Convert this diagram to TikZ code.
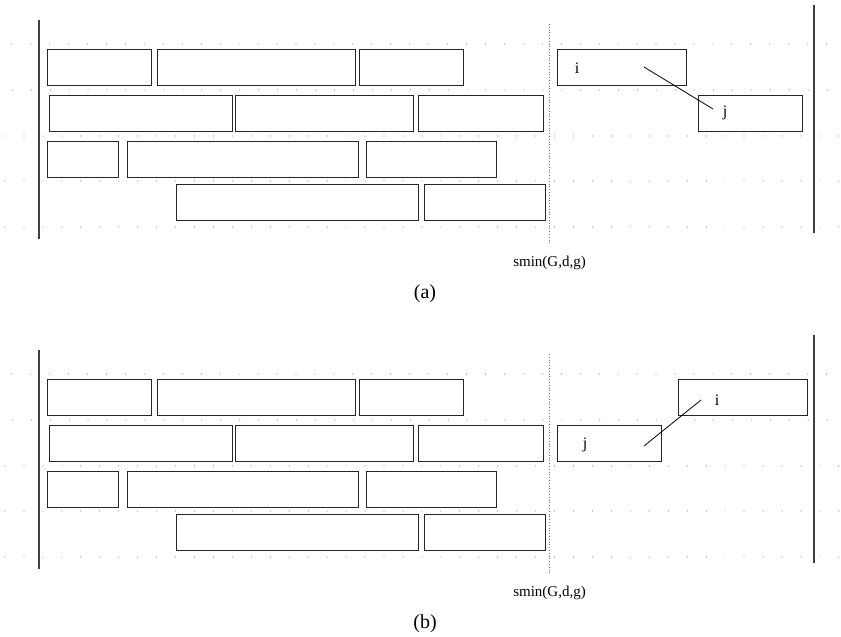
\documentclass[tikz,border=0pt]{standalone}
\usepackage{fontspec}
\setmainfont{Liberation Serif}
\newcommand\mybox[6]{\node[box, minimum width=#4pt, minimum height=#5pt] (#1) at (#2,#3) {#6};}
\newcommand\leftpart[1]{%
  % vertical bars
  \coordinate (#1lt) at (39,20); \coordinate (#1lb) at (39,239);
  \draw[bar] (#1lt) -- (#1lb);
  \coordinate (#1rt) at (814,5); \coordinate (#1rb) at (814,233);
  \draw[bar] (#1rt) -- (#1rb);
  \coordinate (#1dt) at (549,24); \coordinate (#1db) at (549,245);
  \draw[vdot] (#1dt) -- (#1db);
  % dot rows
  \foreach \yy/\ox in {44/11.7,90/12.3,136/5,181/5,227/5}{
    \foreach \k in {0,...,44}{
      \pgfmathsetmacro\xx{\ox+18.95*\k}
      \ifdim\xx pt<841pt \fill[dotc] (\xx,\yy) circle (0.6);\fi
    }
  }
  % blocks
  \mybox{#1r1a}{47}{49}{104}{36}{}
  \mybox{#1r1b}{157}{49}{198}{36}{}
  \mybox{#1r1c}{359}{49}{104}{36}{}
  \mybox{#1r2a}{49}{95}{183}{36}{}
  \mybox{#1r2b}{235}{95}{178}{36}{}
  \mybox{#1r2c}{418}{95}{125}{36}{}
  \mybox{#1r3a}{47}{141}{71}{36}{}
  \mybox{#1r3b}{127}{141}{231}{36}{}
  \mybox{#1r3c}{366}{141}{130}{36}{}
  \mybox{#1r4a}{176}{184}{242}{36}{}
  \mybox{#1r4b}{424}{184}{121}{36}{}
  \node[lbl] (#1smin) at (549.5,263) {smin(G,d,g)};
}
\begin{document}
\begin{tikzpicture}[x=1pt,y=-1pt,
  box/.style={draw=black!85, line width=0.9pt, rectangle, inner sep=0pt, outer sep=0pt, anchor=north west},
  bar/.style={draw=black!75, line width=1.4pt},
  vdot/.style={draw=black!55, line width=0.8pt, dotted},
  dotc/.style={fill=black!45},
  lbl/.style={font=\fontsize{15}{17}\selectfont, inner sep=0pt},
  ij/.style={font=\fontsize{16}{18}\selectfont, inner sep=0pt},
  captxt/.style={font=\fontsize{20}{22}\selectfont, inner sep=0pt},
  link/.style={draw=black, line width=0.8pt}]
\useasboundingbox (0,0) rectangle (841,637);
% panel (a)
\begin{scope}
\leftpart{a}
\mybox{ai}{557}{49}{129}{36}{}
\mybox{aj}{698}{95}{104}{36}{}
\node[ij] (ailbl) at (577,68) {i};
\node[ij] (ajlbl) at (725,113) {j};
\coordinate (al1) at (644,67);
\coordinate (al2) at (713,109);
\draw[link] (al1) -- (al2);
\node[captxt] (capa) at (425,294) {(a)};
\end{scope}
% panel (b)
\begin{scope}[shift={(0,330)}]
\leftpart{b}
\mybox{bj}{557}{95}{104}{36}{}
\mybox{bi}{678}{49}{129}{36}{}
\node[ij] (bilbl) at (717,70) {i};
\node[ij] (bjlbl) at (585,115) {j};
\coordinate (bl1) at (644,116);
\coordinate (bl2) at (701,70);
\draw[link] (bl1) -- (bl2);
\node[captxt] (capb) at (425,294) {(b)};
\end{scope}
\end{tikzpicture}
\end{document}
